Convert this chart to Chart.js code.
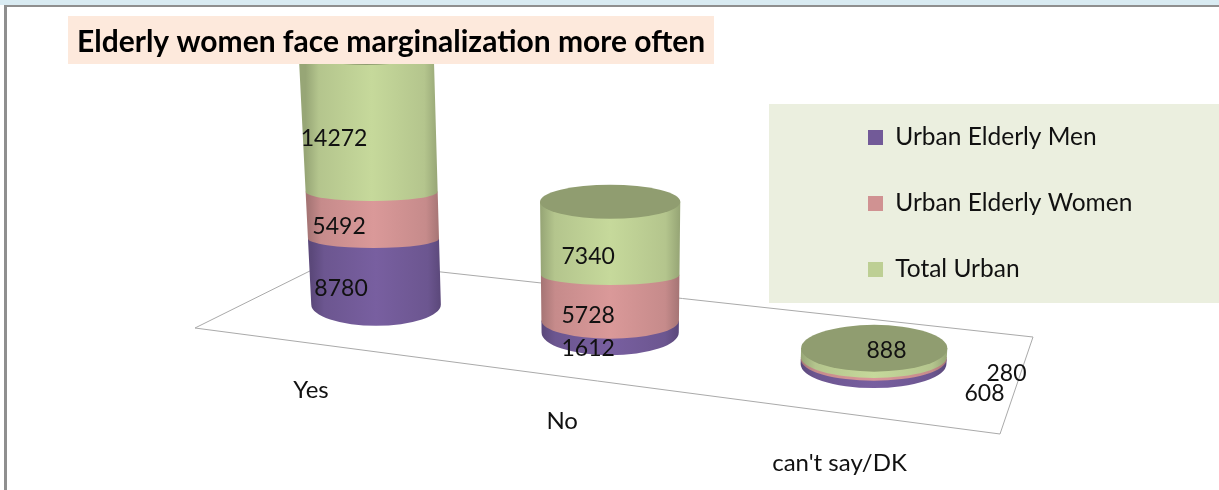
<!DOCTYPE html>
<html>
<head>
<meta charset="utf-8">
<style>html,body{margin:0;padding:0;background:#fff}canvas{display:block}</style>
<script src="https://cdn.jsdelivr.net/npm/chart.js@4/dist/chart.umd.js"></script>
</head>
<body>
<canvas id="c" width="1219" height="490"></canvas>
<script>
const categories = ["Yes", "No", "can't say/DK"];
const urbanElderlyMen = [8780, 1612, 608];
const urbanElderlyWomen = [5492, 5728, 280];
const totalUrban = [14272, 7340, 888];
const seriesNames = ["Urban Elderly Men", "Urban Elderly Women", "Total Urban"];
const seriesColors = ["#725a98", "#d09292", "#bdcf94"];
const titleText = "Elderly women face marginalization more often";

// styling / scene constants (not data)
const FONT = "Lato, Carlito, Calibri, sans-serif";
const TITLE_BOX = {x: 68, y: 16, w: 646, h: 48};
const LEGEND_BOX = {x: 769, y: 104, w: 450, h: 199};
const FLOOR = {fl: [195, 328], fr: [1000, 434], br: [1033, 337], bl: [332, 260]};
const VANISH_X = 611, VANISH_D = 6000;
const labelNudge = [
  [[-35, 17], [-22, 22], [111, 32]],
  [[-37, 12], [-22, 18], [133, 15]],
  [[-42, 18], [-22, 15], [13, -3]]
];
const catNudge = [[-65, 86], [-48, 89], [-34, 99]];

// projective map of the unit floor square onto the picture
const H = (() => {
  const {fl, fr, br, bl} = FLOOR;
  const dx1 = fr[0]-br[0], dx2 = bl[0]-br[0], sx = fl[0]-fr[0]+br[0]-bl[0];
  const dy1 = fr[1]-br[1], dy2 = bl[1]-br[1], sy = fl[1]-fr[1]+br[1]-bl[1];
  const den = dx1*dy2-dx2*dy1;
  const g = (sx*dy2-dx2*sy)/den, h = (dx1*sy-sx*dy1)/den;
  return {a: fr[0]-fl[0]+g*fr[0], b: bl[0]-fl[0]+h*bl[0], c: fl[0],
          d: fr[1]-fl[1]+g*fr[1], e: bl[1]-fl[1]+h*bl[1], f: fl[1], g, h};
})();
function floorPoint(u, v) {
  const w = H.g*u + H.h*v + 1;
  return {x: (H.a*u+H.b*v+H.c)/w, y: (H.d*u+H.e*v+H.f)/w, w};
}
function rise(value, w) {
  return (0.00688*value + 7.27e-8*value*value) * 1.049 / w;
}
function shade(hex, k) {
  const n = parseInt(hex.slice(1), 16);
  const f = c => Math.max(0, Math.min(255, Math.round(c*k)));
  return `rgb(${f(n>>16&255)},${f(n>>8&255)},${f(n&255)})`;
}

const scenePlugin = {
  id: 'scene',
  afterLayout(chart) {
    const leg = chart.legend, t = chart.titleBlock;
    const pad = leg.options.labels.padding;
    const lh = Math.max(15, leg.options.labels.font.size);
    leg.left = 868 - pad; leg.right = 1219;
    leg.top = 137.5 - lh/2 - pad; leg.bottom = 490;
    t.left = TITLE_BOX.x + 9; t.right = TITLE_BOX.x + TITLE_BOX.w;
    t.top = 24; t.bottom = 60;
  },
  beforeDraw(chart) {
    const ctx = chart.ctx;
    ctx.save();
    ctx.fillStyle = '#ffffff'; ctx.fillRect(0, 0, 1219, 490);
    ctx.fillStyle = '#d9ebf2'; ctx.fillRect(0, 0, 1219, 5);
    ctx.fillStyle = '#8f8f8f'; ctx.fillRect(4, 5, 1215, 2); ctx.fillRect(4, 5, 3, 485);
    ctx.fillStyle = '#fde9dc'; ctx.fillRect(TITLE_BOX.x, TITLE_BOX.y, TITLE_BOX.w, TITLE_BOX.h);
    ctx.fillStyle = '#ebefdf'; ctx.fillRect(LEGEND_BOX.x, LEGEND_BOX.y, LEGEND_BOX.w, LEGEND_BOX.h);
    ctx.restore();
  },
  beforeDatasetsDraw(chart) {
    const ctx = chart.ctx, area = chart.chartArea, ys = chart.scales.y;
    ctx.save();
    // floor
    ctx.strokeStyle = '#aaaaaa'; ctx.lineWidth = 1;
    ctx.beginPath();
    ctx.moveTo(...FLOOR.fl); ctx.lineTo(...FLOOR.fr); ctx.lineTo(...FLOOR.br);
    ctx.lineTo(...FLOOR.bl); ctx.closePath(); ctx.stroke();
    // cylinders
    ctx.save();
    ctx.beginPath(); ctx.rect(0, TITLE_BOX.y + TITLE_BOX.h, 1219, 490); ctx.clip();
    const texts = [];
    chart.data.labels.forEach((lab, i) => {
      let foot = null;
      const last = chart.data.datasets.length - 1;
      chart.data.datasets.forEach((ds, j) => {
        const el = chart.getDatasetMeta(j).data[i];
        const p = floorPoint((el.x - area.left)/area.width, 0.5);
        foot = p;
        const rx0 = 68/p.w, ry0 = 22.5/p.w;
        const at = (v, k) => {
          const h = rise(v, p.w)*k, s = h/VANISH_D;
          return {h, y: p.y - h, cx: p.x + (p.x - VANISH_X)*s, rx: rx0*(1+s)};
        };
        const lo = at(ys.getValueForPixel(el.base), 1);
        const hi = at(ys.getValueForPixel(el.y), j === last ? 1.049/p.w : 1);
        const ryLo = j === 0 ? ry0 : ry0*(0.45 + 0.5*Math.max(0, 1 - lo.h/40));
        const col = ds.backgroundColor;
        const g = ctx.createLinearGradient(lo.cx - lo.rx, 0, lo.cx + lo.rx, 0);
        const bright = shade(col, 1.05), dark = shade(col, 0.8);
        g.addColorStop(0, dark); g.addColorStop(0.1, shade(col, 0.95));
        g.addColorStop(0.5, bright); g.addColorStop(0.9, shade(col, 0.95)); g.addColorStop(1, dark);
        ctx.fillStyle = g;
        ctx.beginPath();
        ctx.ellipse(lo.cx, lo.y, lo.rx, ryLo, 0, 0, Math.PI);
        ctx.lineTo(hi.cx - hi.rx, hi.y);
        ctx.lineTo(hi.cx + hi.rx, hi.y);
        ctx.closePath(); ctx.fill();
        if (j === last) {
          const ryTop = ry0*(1 - 0.25*Math.min(1, hi.h/130));
          ctx.fillStyle = shade(col, 0.76);
          ctx.beginPath();
          ctx.ellipse(hi.cx, hi.y, hi.rx, ryTop, 0, 0, Math.PI*2);
          ctx.fill();
        }
        const n = labelNudge[j][i];
        const yHi = at(ys.getValueForPixel(el.y), 1).y;
        texts.push({t: String(ds.data[i]), x: p.x + n[0], y: (lo.y + Math.max(yHi, 48))/2 + n[1], size: 23});
      });
      texts.push({t: lab, x: foot.x + catNudge[i][0], y: foot.y + catNudge[i][1], size: 24});
    });
    ctx.restore();
    ctx.fillStyle = '#111111';
    ctx.textAlign = 'center'; ctx.textBaseline = 'middle';
    texts.forEach(o => { ctx.font = o.size + 'px ' + FONT; ctx.fillText(o.t, o.x, o.y); });
    ctx.restore();
    return false;
  }
};

new Chart(document.getElementById('c'), {
  type: 'bar',
  data: {
    labels: categories,
    datasets: [
      {label: seriesNames[0], data: urbanElderlyMen, backgroundColor: seriesColors[0]},
      {label: seriesNames[1], data: urbanElderlyWomen, backgroundColor: seriesColors[1]},
      {label: seriesNames[2], data: totalUrban, backgroundColor: seriesColors[2]}
    ]
  },
  options: {
    responsive: false,
    animation: false,
    layout: {padding: 0},
    scales: {
      x: {display: false, stacked: true},
      y: {display: false, stacked: true, min: 0, max: 30000}
    },
    plugins: {
      tooltip: {enabled: false},
      title: {display: true, text: titleText, align: 'start', color: '#000000', padding: 0,
              font: {family: FONT, size: 30, weight: 'bold'}},
      legend: {position: 'right', align: 'start',
               labels: {boxWidth: 15, boxHeight: 15, padding: 41.5, color: '#111111',
                        font: {family: FONT, size: 24.5}}}
    }
  },
  plugins: [scenePlugin]
});
</script>
</body>
</html>
